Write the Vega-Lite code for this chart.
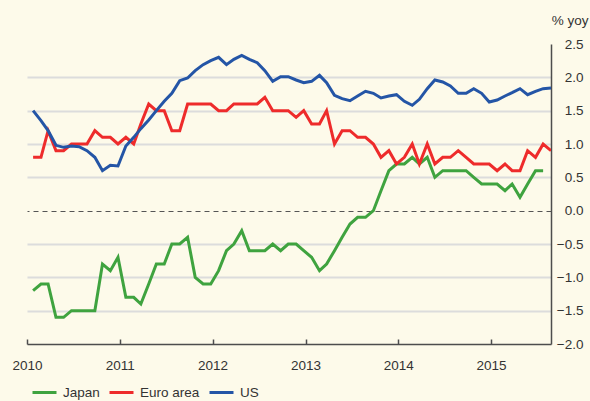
{
  "$schema": "https://vega.github.io/schema/vega-lite/v6.json",
  "autosize": {"type": "none"},
  "padding": {"left": 27, "top": 44, "right": 39, "bottom": 57},
  "width": 524,
  "height": 300,
  "background": "#fdfaea",
  "config": {
    "view": {"stroke": null},
    "font": "Liberation Sans",
    "axis": {"labelFont": "Liberation Sans", "labelFontSize": 13.5, "labelColor": "#333333", "titleFont": "Liberation Sans"}
  },
  "datasets": {
    "cpi": [
      {"date": "2010-01-25", "country": "Japan", "value": -1.2},
      {"date": "2010-02-25", "country": "Japan", "value": -1.1},
      {"date": "2010-03-25", "country": "Japan", "value": -1.1},
      {"date": "2010-04-25", "country": "Japan", "value": -1.6},
      {"date": "2010-05-25", "country": "Japan", "value": -1.6},
      {"date": "2010-06-25", "country": "Japan", "value": -1.5},
      {"date": "2010-07-25", "country": "Japan", "value": -1.5},
      {"date": "2010-08-25", "country": "Japan", "value": -1.5},
      {"date": "2010-09-25", "country": "Japan", "value": -1.5},
      {"date": "2010-10-25", "country": "Japan", "value": -0.8},
      {"date": "2010-11-25", "country": "Japan", "value": -0.9},
      {"date": "2010-12-25", "country": "Japan", "value": -0.7},
      {"date": "2011-01-25", "country": "Japan", "value": -1.3},
      {"date": "2011-02-25", "country": "Japan", "value": -1.3},
      {"date": "2011-03-25", "country": "Japan", "value": -1.4},
      {"date": "2011-04-25", "country": "Japan", "value": -1.1},
      {"date": "2011-05-25", "country": "Japan", "value": -0.8},
      {"date": "2011-06-25", "country": "Japan", "value": -0.8},
      {"date": "2011-07-25", "country": "Japan", "value": -0.5},
      {"date": "2011-08-25", "country": "Japan", "value": -0.5},
      {"date": "2011-09-25", "country": "Japan", "value": -0.4},
      {"date": "2011-10-25", "country": "Japan", "value": -1.0},
      {"date": "2011-11-25", "country": "Japan", "value": -1.1},
      {"date": "2011-12-25", "country": "Japan", "value": -1.1},
      {"date": "2012-01-25", "country": "Japan", "value": -0.9},
      {"date": "2012-02-25", "country": "Japan", "value": -0.6},
      {"date": "2012-03-25", "country": "Japan", "value": -0.5},
      {"date": "2012-04-25", "country": "Japan", "value": -0.3},
      {"date": "2012-05-25", "country": "Japan", "value": -0.6},
      {"date": "2012-06-25", "country": "Japan", "value": -0.6},
      {"date": "2012-07-25", "country": "Japan", "value": -0.6},
      {"date": "2012-08-25", "country": "Japan", "value": -0.5},
      {"date": "2012-09-25", "country": "Japan", "value": -0.6},
      {"date": "2012-10-25", "country": "Japan", "value": -0.5},
      {"date": "2012-11-25", "country": "Japan", "value": -0.5},
      {"date": "2012-12-25", "country": "Japan", "value": -0.6},
      {"date": "2013-01-25", "country": "Japan", "value": -0.7},
      {"date": "2013-02-25", "country": "Japan", "value": -0.9},
      {"date": "2013-03-25", "country": "Japan", "value": -0.8},
      {"date": "2013-04-25", "country": "Japan", "value": -0.6},
      {"date": "2013-05-25", "country": "Japan", "value": -0.4},
      {"date": "2013-06-25", "country": "Japan", "value": -0.2},
      {"date": "2013-07-25", "country": "Japan", "value": -0.1},
      {"date": "2013-08-25", "country": "Japan", "value": -0.1},
      {"date": "2013-09-25", "country": "Japan", "value": 0.0},
      {"date": "2013-10-25", "country": "Japan", "value": 0.3},
      {"date": "2013-11-25", "country": "Japan", "value": 0.6},
      {"date": "2013-12-25", "country": "Japan", "value": 0.7},
      {"date": "2014-01-25", "country": "Japan", "value": 0.7},
      {"date": "2014-02-25", "country": "Japan", "value": 0.8},
      {"date": "2014-03-25", "country": "Japan", "value": 0.7},
      {"date": "2014-04-25", "country": "Japan", "value": 0.8},
      {"date": "2014-05-25", "country": "Japan", "value": 0.5},
      {"date": "2014-06-25", "country": "Japan", "value": 0.6},
      {"date": "2014-07-25", "country": "Japan", "value": 0.6},
      {"date": "2014-08-25", "country": "Japan", "value": 0.6},
      {"date": "2014-09-25", "country": "Japan", "value": 0.6},
      {"date": "2014-10-25", "country": "Japan", "value": 0.5},
      {"date": "2014-11-25", "country": "Japan", "value": 0.4},
      {"date": "2014-12-25", "country": "Japan", "value": 0.4},
      {"date": "2015-01-25", "country": "Japan", "value": 0.4},
      {"date": "2015-02-25", "country": "Japan", "value": 0.3},
      {"date": "2015-03-25", "country": "Japan", "value": 0.4},
      {"date": "2015-04-25", "country": "Japan", "value": 0.2},
      {"date": "2015-05-25", "country": "Japan", "value": 0.4},
      {"date": "2015-06-25", "country": "Japan", "value": 0.6},
      {"date": "2015-07-25", "country": "Japan", "value": 0.6},

      {"date": "2010-01-25", "country": "Euro area", "value": 0.8},
      {"date": "2010-02-25", "country": "Euro area", "value": 0.8},
      {"date": "2010-03-25", "country": "Euro area", "value": 1.2},
      {"date": "2010-04-25", "country": "Euro area", "value": 0.9},
      {"date": "2010-05-25", "country": "Euro area", "value": 0.9},
      {"date": "2010-06-25", "country": "Euro area", "value": 1.0},
      {"date": "2010-07-25", "country": "Euro area", "value": 1.0},
      {"date": "2010-08-25", "country": "Euro area", "value": 1.0},
      {"date": "2010-09-25", "country": "Euro area", "value": 1.2},
      {"date": "2010-10-25", "country": "Euro area", "value": 1.1},
      {"date": "2010-11-25", "country": "Euro area", "value": 1.1},
      {"date": "2010-12-25", "country": "Euro area", "value": 1.0},
      {"date": "2011-01-25", "country": "Euro area", "value": 1.1},
      {"date": "2011-02-25", "country": "Euro area", "value": 1.0},
      {"date": "2011-03-25", "country": "Euro area", "value": 1.3},
      {"date": "2011-04-25", "country": "Euro area", "value": 1.6},
      {"date": "2011-05-25", "country": "Euro area", "value": 1.5},
      {"date": "2011-06-25", "country": "Euro area", "value": 1.5},
      {"date": "2011-07-25", "country": "Euro area", "value": 1.2},
      {"date": "2011-08-25", "country": "Euro area", "value": 1.2},
      {"date": "2011-09-25", "country": "Euro area", "value": 1.6},
      {"date": "2011-10-25", "country": "Euro area", "value": 1.6},
      {"date": "2011-11-25", "country": "Euro area", "value": 1.6},
      {"date": "2011-12-25", "country": "Euro area", "value": 1.6},
      {"date": "2012-01-25", "country": "Euro area", "value": 1.5},
      {"date": "2012-02-25", "country": "Euro area", "value": 1.5},
      {"date": "2012-03-25", "country": "Euro area", "value": 1.6},
      {"date": "2012-04-25", "country": "Euro area", "value": 1.6},
      {"date": "2012-05-25", "country": "Euro area", "value": 1.6},
      {"date": "2012-06-25", "country": "Euro area", "value": 1.6},
      {"date": "2012-07-25", "country": "Euro area", "value": 1.7},
      {"date": "2012-08-25", "country": "Euro area", "value": 1.5},
      {"date": "2012-09-25", "country": "Euro area", "value": 1.5},
      {"date": "2012-10-25", "country": "Euro area", "value": 1.5},
      {"date": "2012-11-25", "country": "Euro area", "value": 1.4},
      {"date": "2012-12-25", "country": "Euro area", "value": 1.5},
      {"date": "2013-01-25", "country": "Euro area", "value": 1.3},
      {"date": "2013-02-25", "country": "Euro area", "value": 1.3},
      {"date": "2013-03-25", "country": "Euro area", "value": 1.5},
      {"date": "2013-04-25", "country": "Euro area", "value": 1.0},
      {"date": "2013-05-25", "country": "Euro area", "value": 1.2},
      {"date": "2013-06-25", "country": "Euro area", "value": 1.2},
      {"date": "2013-07-25", "country": "Euro area", "value": 1.1},
      {"date": "2013-08-25", "country": "Euro area", "value": 1.1},
      {"date": "2013-09-25", "country": "Euro area", "value": 1.0},
      {"date": "2013-10-25", "country": "Euro area", "value": 0.8},
      {"date": "2013-11-25", "country": "Euro area", "value": 0.9},
      {"date": "2013-12-25", "country": "Euro area", "value": 0.7},
      {"date": "2014-01-25", "country": "Euro area", "value": 0.8},
      {"date": "2014-02-25", "country": "Euro area", "value": 1.0},
      {"date": "2014-03-25", "country": "Euro area", "value": 0.7},
      {"date": "2014-04-25", "country": "Euro area", "value": 1.0},
      {"date": "2014-05-25", "country": "Euro area", "value": 0.7},
      {"date": "2014-06-25", "country": "Euro area", "value": 0.8},
      {"date": "2014-07-25", "country": "Euro area", "value": 0.8},
      {"date": "2014-08-25", "country": "Euro area", "value": 0.9},
      {"date": "2014-09-25", "country": "Euro area", "value": 0.8},
      {"date": "2014-10-25", "country": "Euro area", "value": 0.7},
      {"date": "2014-11-25", "country": "Euro area", "value": 0.7},
      {"date": "2014-12-25", "country": "Euro area", "value": 0.7},
      {"date": "2015-01-25", "country": "Euro area", "value": 0.6},
      {"date": "2015-02-25", "country": "Euro area", "value": 0.7},
      {"date": "2015-03-25", "country": "Euro area", "value": 0.6},
      {"date": "2015-04-25", "country": "Euro area", "value": 0.6},
      {"date": "2015-05-25", "country": "Euro area", "value": 0.9},
      {"date": "2015-06-25", "country": "Euro area", "value": 0.8},
      {"date": "2015-07-25", "country": "Euro area", "value": 1.0},
      {"date": "2015-08-25", "country": "Euro area", "value": 0.9},

      {"date": "2010-01-25", "country": "US", "value": 1.5},
      {"date": "2010-02-25", "country": "US", "value": 1.35},
      {"date": "2010-03-25", "country": "US", "value": 1.2},
      {"date": "2010-04-25", "country": "US", "value": 0.98},
      {"date": "2010-05-25", "country": "US", "value": 0.95},
      {"date": "2010-06-25", "country": "US", "value": 0.97},
      {"date": "2010-07-25", "country": "US", "value": 0.96},
      {"date": "2010-08-25", "country": "US", "value": 0.9},
      {"date": "2010-09-25", "country": "US", "value": 0.8},
      {"date": "2010-10-25", "country": "US", "value": 0.6},
      {"date": "2010-11-25", "country": "US", "value": 0.68},
      {"date": "2010-12-25", "country": "US", "value": 0.67},
      {"date": "2011-01-25", "country": "US", "value": 0.97},
      {"date": "2011-02-25", "country": "US", "value": 1.1},
      {"date": "2011-03-25", "country": "US", "value": 1.23},
      {"date": "2011-04-25", "country": "US", "value": 1.36},
      {"date": "2011-05-25", "country": "US", "value": 1.5},
      {"date": "2011-06-25", "country": "US", "value": 1.64},
      {"date": "2011-07-25", "country": "US", "value": 1.76},
      {"date": "2011-08-25", "country": "US", "value": 1.95},
      {"date": "2011-09-25", "country": "US", "value": 1.99},
      {"date": "2011-10-25", "country": "US", "value": 2.1},
      {"date": "2011-11-25", "country": "US", "value": 2.19},
      {"date": "2011-12-25", "country": "US", "value": 2.25},
      {"date": "2012-01-25", "country": "US", "value": 2.3},
      {"date": "2012-02-25", "country": "US", "value": 2.19},
      {"date": "2012-03-25", "country": "US", "value": 2.27},
      {"date": "2012-04-25", "country": "US", "value": 2.33},
      {"date": "2012-05-25", "country": "US", "value": 2.27},
      {"date": "2012-06-25", "country": "US", "value": 2.22},
      {"date": "2012-07-25", "country": "US", "value": 2.1},
      {"date": "2012-08-25", "country": "US", "value": 1.94},
      {"date": "2012-09-25", "country": "US", "value": 2.01},
      {"date": "2012-10-25", "country": "US", "value": 2.01},
      {"date": "2012-11-25", "country": "US", "value": 1.96},
      {"date": "2012-12-25", "country": "US", "value": 1.92},
      {"date": "2013-01-25", "country": "US", "value": 1.94},
      {"date": "2013-02-25", "country": "US", "value": 2.03},
      {"date": "2013-03-25", "country": "US", "value": 1.92},
      {"date": "2013-04-25", "country": "US", "value": 1.73},
      {"date": "2013-05-25", "country": "US", "value": 1.68},
      {"date": "2013-06-25", "country": "US", "value": 1.65},
      {"date": "2013-07-25", "country": "US", "value": 1.72},
      {"date": "2013-08-25", "country": "US", "value": 1.79},
      {"date": "2013-09-25", "country": "US", "value": 1.76},
      {"date": "2013-10-25", "country": "US", "value": 1.69},
      {"date": "2013-11-25", "country": "US", "value": 1.72},
      {"date": "2013-12-25", "country": "US", "value": 1.74},
      {"date": "2014-01-25", "country": "US", "value": 1.64},
      {"date": "2014-02-25", "country": "US", "value": 1.58},
      {"date": "2014-03-25", "country": "US", "value": 1.67},
      {"date": "2014-04-25", "country": "US", "value": 1.83},
      {"date": "2014-05-25", "country": "US", "value": 1.96},
      {"date": "2014-06-25", "country": "US", "value": 1.93},
      {"date": "2014-07-25", "country": "US", "value": 1.87},
      {"date": "2014-08-25", "country": "US", "value": 1.76},
      {"date": "2014-09-25", "country": "US", "value": 1.76},
      {"date": "2014-10-25", "country": "US", "value": 1.83},
      {"date": "2014-11-25", "country": "US", "value": 1.76},
      {"date": "2014-12-25", "country": "US", "value": 1.63},
      {"date": "2015-01-25", "country": "US", "value": 1.66},
      {"date": "2015-02-25", "country": "US", "value": 1.72},
      {"date": "2015-03-25", "country": "US", "value": 1.77},
      {"date": "2015-04-25", "country": "US", "value": 1.83},
      {"date": "2015-05-25", "country": "US", "value": 1.74},
      {"date": "2015-06-25", "country": "US", "value": 1.79},
      {"date": "2015-07-25", "country": "US", "value": 1.83},
      {"date": "2015-08-25", "country": "US", "value": 1.84}
    ]
  },
  "data": {"name": "cpi"},
  "mark": {"type": "line", "strokeWidth": 3, "clip": true},
  "encoding": {
    "x": {
      "field": "date",
      "type": "temporal",
      "scale": {"domain": ["2010-01-01", "2015-08-25"]},
      "axis": {
        "title": null,
        "format": "%Y",
        "values": [{"year": 2010}, {"year": 2011}, {"year": 2012}, {"year": 2013}, {"year": 2014}, {"year": 2015}],
        "grid": false,
        "domainColor": "#4d4d4d",
        "domainWidth": 1.5,
        "tickColor": "#4d4d4d",
        "tickWidth": 1.5,
        "tickSize": -5,
        "labelPadding": 19,
        "labelFlush": false
      }
    },
    "y": {
      "field": "value",
      "type": "quantitative",
      "scale": {"domain": [-2, 2.5], "nice": false, "zero": false},
      "axis": {
        "orient": "right",
        "title": "% yoy",
        "titleAngle": 0,
        "titleAlign": "right",
        "titleBaseline": "middle",
        "titleX": 37,
        "titleY": -24,
        "titleFontSize": 13.5,
        "titleFontWeight": "normal",
        "titleColor": "#333333",
        "values": [-2, -1.5, -1, -0.5, 0, 0.5, 1, 1.5, 2, 2.5],
        "format": ".1f",
        "labelAlign": "right",
        "labelBaseline": "middle",
        "labelPadding": 32,
        "ticks": false,
        "domainColor": "#4d4d4d",
        "domainWidth": 1.5,
        "grid": true,
        "gridColor": {"condition": {"test": "datum.value === 0", "value": "#555555"}, "value": "#dcdcdc"},
        "gridWidth": {"condition": {"test": "datum.value === 0", "value": 1}, "value": 2},
        "gridDash": {"condition": {"test": "datum.value === 0", "value": [5, 4]}, "value": []},
        "gridOpacity": {"condition": {"test": "datum.value >= 2.5 || datum.value <= -2", "value": 0}, "value": 1}
      }
    },
    "color": {
      "field": "country",
      "type": "nominal",
      "scale": {"domain": ["Japan", "Euro area", "US"], "range": ["#3fa33f", "#ee2b2b", "#2455a6"]},
      "legend": {
        "title": null,
        "orient": "none",
        "direction": "horizontal",
        "legendX": 4,
        "legendY": 335,
        "symbolType": "stroke",
        "symbolSize": 576,
        "symbolStrokeWidth": 3,
        "labelFont": "Liberation Sans",
        "labelFontSize": 13.5,
        "labelColor": "#333333",
        "labelOffset": 5,
        "columnPadding": 3
      }
    }
  }
}
